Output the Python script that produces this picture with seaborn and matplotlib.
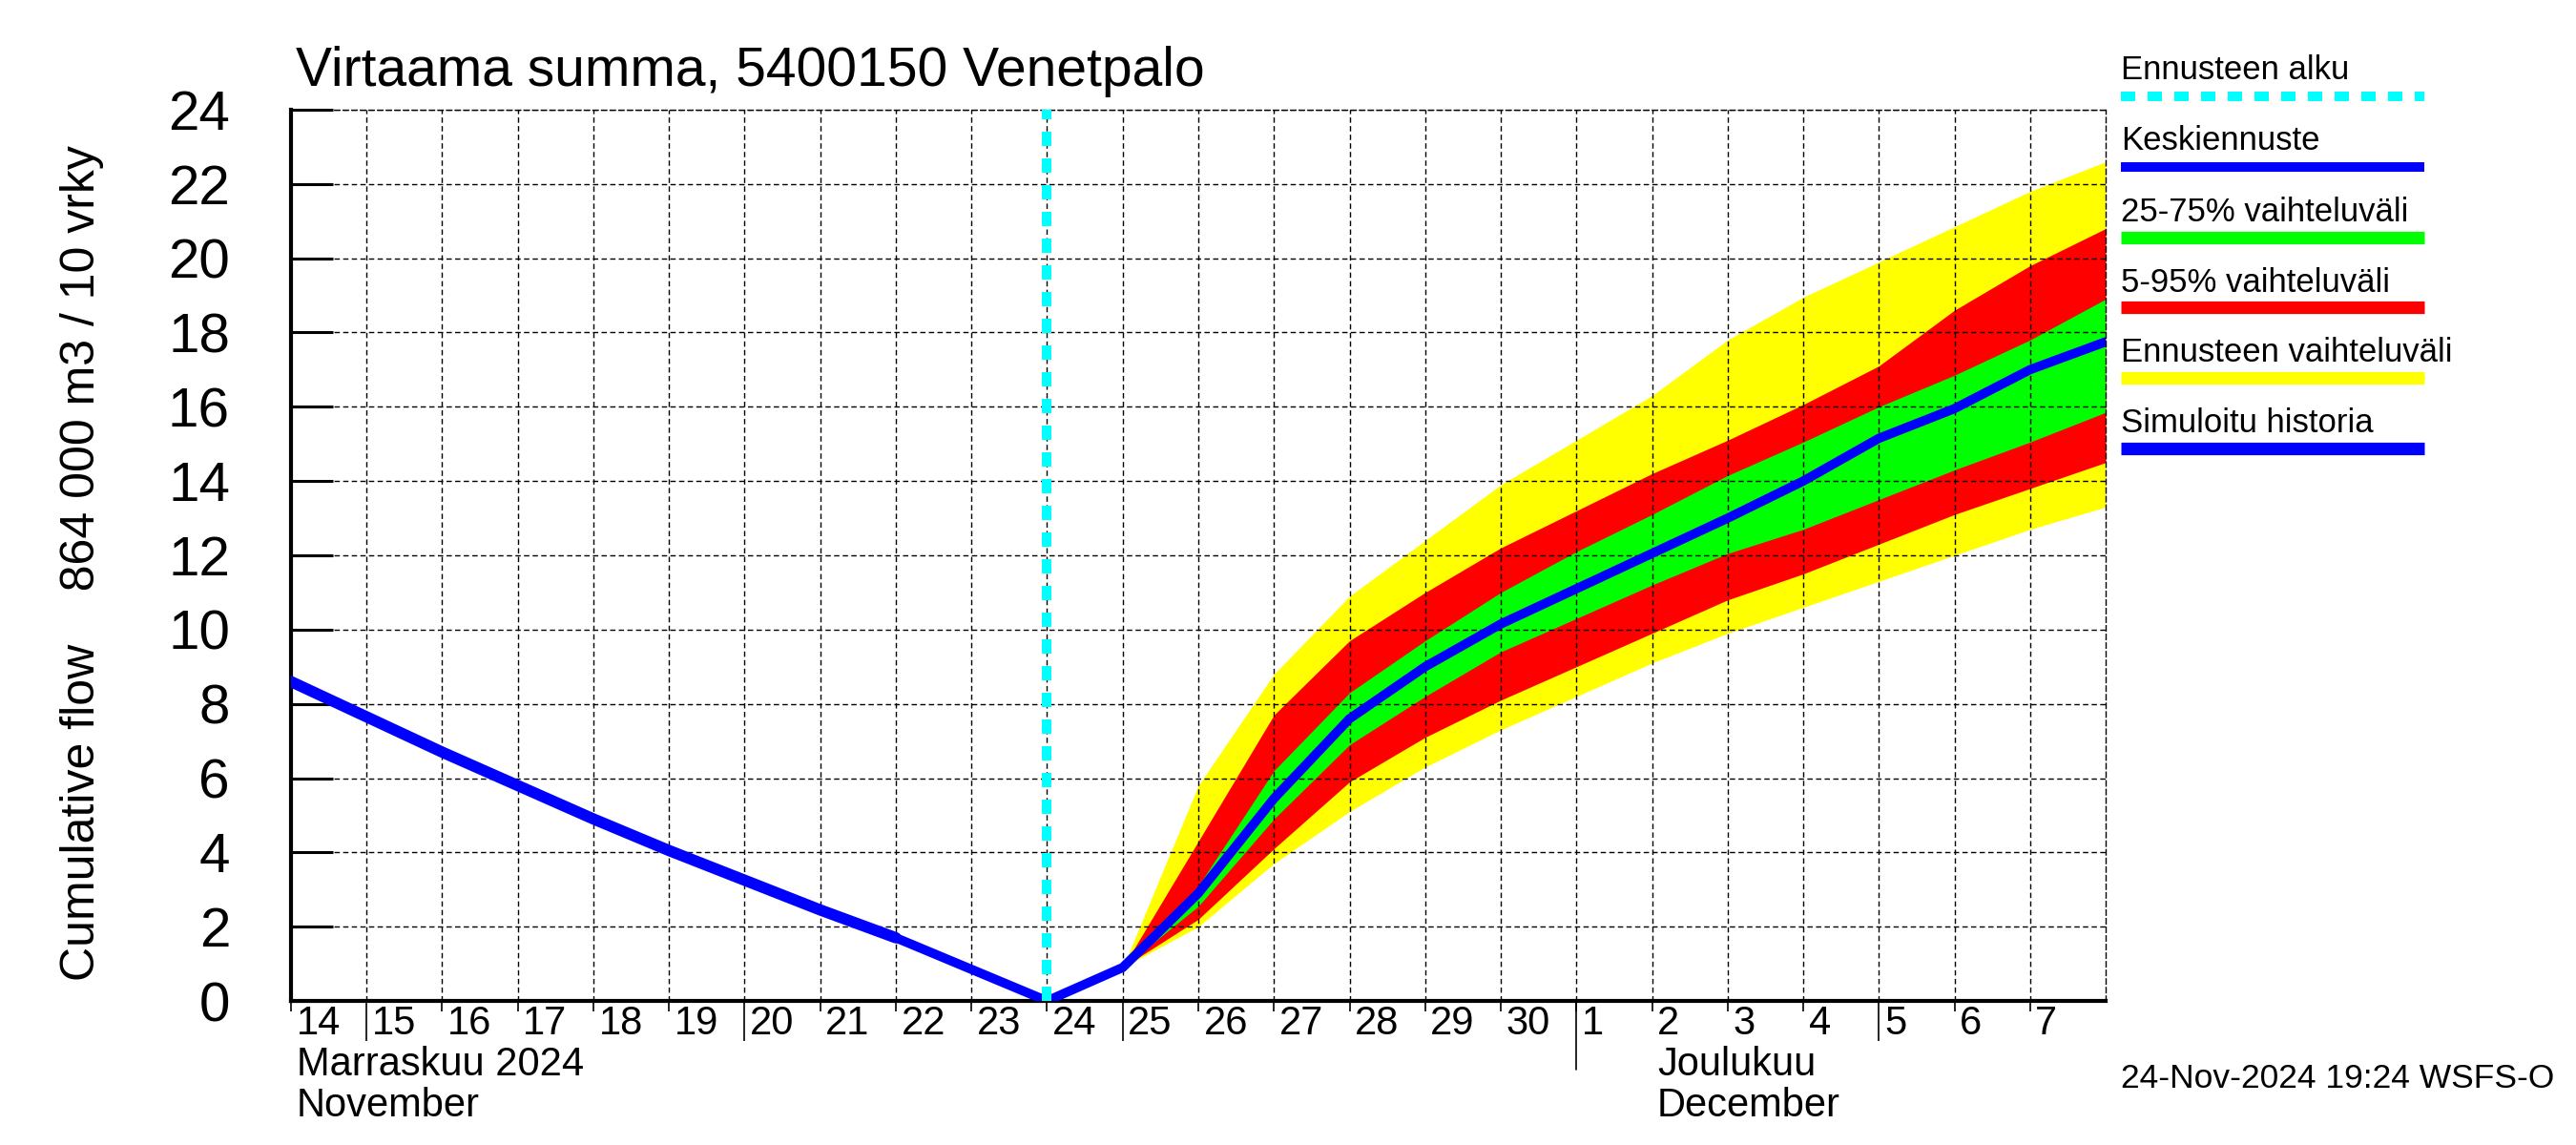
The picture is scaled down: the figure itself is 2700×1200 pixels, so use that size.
"""Cumulative flow forecast chart, 5400150 Venetpalo."""

import matplotlib
matplotlib.use("Agg")
import matplotlib.pyplot as plt
import matplotlib.transforms as mtransforms
from matplotlib.lines import Line2D
import pandas as pd
import seaborn as sns

sns.set_theme(style="white")
NARROW = ["Liberation Sans Narrow", "Liberation Sans", "DejaVu Sans"]
PLAIN = ["Liberation Sans", "DejaVu Sans"]
plt.rcParams["font.family"] = NARROW
plt.rcParams.update({"text.color": "black", "axes.labelcolor": "black",
                     "xtick.color": "black", "ytick.color": "black"})

TITLE = "Virtaama summa, 5400150 Venetpalo"
YLABEL = "Cumulative flow    864 000 m3 / 10 vrky"
STAMP = "24-Nov-2024 19:24 WSFS-O"

# simulated history (thick line)
history_dates = pd.date_range("2024-11-14", "2024-11-22", freq="D")
history = [8.6, 7.65, 6.7, 5.8, 4.9, 4.05, 3.25, 2.45, 1.7]

# median forecast
median_dates = pd.date_range("2024-11-22", "2024-12-08", freq="D")
median = [1.7, 0.85, 0.0, 0.9, 2.9, 5.45, 7.6, 9.0, 10.15, 11.1, 12.05,
          13.0, 14.0, 15.15, 15.95, 17.0, 17.75]

# forecast spread
band_dates = pd.date_range("2024-11-25", "2024-12-08", freq="D")
p25 = [0.9, 2.55, 4.9, 6.9, 8.2, 9.4, 10.3, 11.2, 12.05, 12.7, 13.5, 14.3, 15.05, 15.85]
p75 = [0.9, 3.1, 6.2, 8.3, 9.7, 11.0, 12.1, 13.1, 14.15, 15.05, 16.0, 16.85, 17.8, 18.9]
p05 = [0.9, 2.2, 4.1, 5.9, 7.1, 8.1, 9.0, 9.9, 10.8, 11.5, 12.3, 13.1, 13.8, 14.5]
p95 = [0.9, 4.3, 7.7, 9.7, 11.0, 12.2, 13.2, 14.2, 15.1, 16.06, 17.1, 18.6, 19.8, 20.8]
low = [0.9, 2.0, 3.7, 5.1, 6.3, 7.3, 8.2, 9.1, 9.9, 10.6, 11.3, 12.0, 12.7, 13.3]
high = [0.9, 5.8, 8.8, 10.9, 12.4, 13.9, 15.1, 16.3, 17.8, 18.95, 19.9, 20.85, 21.8, 22.6]

forecast_start = pd.Timestamp("2024-11-24")
x_start, x_end = pd.Timestamp("2024-11-14"), pd.Timestamp("2024-12-08")
tick_days = pd.date_range("2024-11-14", "2024-12-07", freq="D")
long_tick_days = [pd.Timestamp(d) for d in ("2024-11-15", "2024-11-20", "2024-11-25", "2024-12-05")]
month_start = pd.Timestamp("2024-12-01")
y_ticks = list(range(0, 25, 2))

legend_items = [
    ("Ennusteen alku", "#00ffff", 7.2, (1.5, 1.3)),
    ("Keskiennuste", "#0000ff", 7.2, None),
    ("25-75% vaihteluväli", "#00ff00", 9.5, None),
    ("5-95% vaihteluväli", "#ff0000", 9.5, None),
    ("Ennusteen vaihteluväli", "#ffff00", 9.5, None),
    ("Simuloitu historia", "#0000ff", 9.5, None),
]

fig = plt.figure(figsize=(27, 12), dpi=100)
ax = fig.add_axes([0.11296, 0.12583, 0.70445, 0.77834])

ax.fill_between(band_dates, low, high, color="#ffff00", lw=0, zorder=1)
ax.fill_between(band_dates, p05, p95, color="#ff0000", lw=0, zorder=1)
ax.fill_between(band_dates, p25, p75, color="#00ff00", lw=0, zorder=1)
sns.lineplot(x=history_dates, y=history, ax=ax, color="#0000ff", lw=8.5, zorder=3)
sns.lineplot(x=median_dates, y=median, ax=ax, color="#0000ff", lw=7.0, zorder=3)
ax.axvline(forecast_start, color="#00ffff", lw=7.2, dashes=(1.5, 1.3), zorder=3)

ax.set_xlim(x_start, x_end)
ax.set_ylim(0, 24)
ax.set_xlabel("")
ax.set_ylabel("")

short_days = [d for d in tick_days if d not in long_tick_days]
ax.set_xticks(long_tick_days, labels=[str(d.day) for d in long_tick_days])
ax.set_xticks(short_days, labels=[str(d.day) for d in short_days], minor=True)
ax.tick_params(axis="x", which="major", direction="out", length=30, width=1.2,
               pad=-27, labelsize=30, color="black", bottom=True)
ax.tick_params(axis="x", which="minor", direction="out", length=8, width=1.2,
               pad=-5, labelsize=30, color="black", bottom=True)
shift = mtransforms.ScaledTranslation(4 / 72, 0, fig.dpi_scale_trans)
for lab in ax.get_xticklabels(which="both"):
    lab.set_horizontalalignment("left")
    lab.set_transform(lab.get_transform() + shift)

ax.set_yticks(y_ticks, labels=[str(v) for v in y_ticks])
ax.tick_params(axis="y", direction="in", length=32, width=2.2, pad=46,
               labelsize=42, left=True, right=False, color="black")

grid_style = dict(color="black", lw=1.0, ls=(0, (4, 2.5)))
ax.grid(True, axis="x", which="both", **grid_style)
ax.grid(True, axis="y", which="major", **grid_style)
ax.set_axisbelow(False)

for side in ("left", "bottom"):
    ax.spines[side].set_color("black")
    ax.spines[side].set_linewidth(3)
for side in ("top", "right"):
    ax.spines[side].set_color("black")
    ax.spines[side].set_linewidth(1.0)
    ax.spines[side].set_linestyle((0, (4, 2.5)))

blend = mtransforms.blended_transform_factory(ax.transData, ax.transAxes)
ax.plot([month_start, month_start], [0, -0.077], transform=blend,
        clip_on=False, color="black", lw=1.2)
ax.text(x_start, -0.05, "Marraskuu 2024\nNovember", transform=blend + shift,
        va="top", ha="left", fontsize=30, linespacing=1.1)
ax.text(pd.Timestamp("2024-12-02"), -0.05, "Joulukuu\nDecember", transform=blend + shift,
        va="top", ha="left", fontsize=30, linespacing=1.1)

fig.text(310 / 2700, 1 - 90 / 1200, TITLE, fontsize=41, va="baseline", ha="left")
fig.text(86 / 2700, 0.508, YLABEL, fontsize=36, rotation=90, va="center", ha="center")

text_base = [83, 157, 232, 306, 379, 453]
line_y = [101, 175, 249, 322, 396, 470]
for (label, color, lw, dashes), tb, ly in zip(legend_items, text_base, line_y):
    fig.text(2223 / 2700, 1 - tb / 1200, label, fontsize=25, family=PLAIN,
             va="baseline", ha="left")
    line = Line2D([2223 / 2700, 2541 / 2700], [1 - ly / 1200, 1 - ly / 1200],
                  transform=fig.transFigure, color=color, lw=lw,
                  solid_capstyle="butt", dash_capstyle="butt")
    if dashes:
        line.set_dashes(dashes)
    fig.add_artist(line)

fig.text(2223 / 2700, 1 - 1140 / 1200, STAMP, fontsize=25.5, family=PLAIN,
         va="baseline", ha="left")

fig.savefig("out.png", dpi=100)
